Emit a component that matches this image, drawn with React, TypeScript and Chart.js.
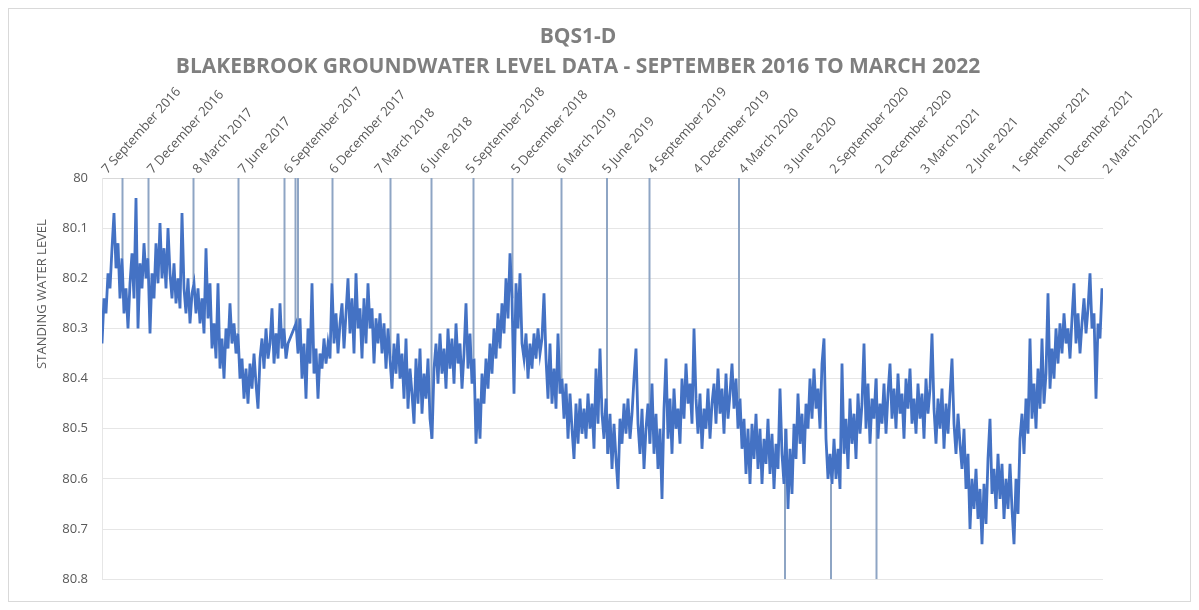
import { useEffect, useRef } from "react";
import { Chart, registerables } from "chart.js";

Chart.register(...registerables);

const TITLE = "BQS1-D";
const SUBTITLE = "BLAKEBROOK GROUNDWATER LEVEL DATA - SEPTEMBER 2016 TO MARCH 2022";
const Y_TITLE = "STANDING WATER LEVEL";

const tickLabels = [
  "7 September 2016", "7 December 2016", "8 March 2017", "7 June 2017",
  "6 September 2017", "6 December 2017", "7 March 2018", "6 June 2018",
  "5 September 2018", "5 December 2018", "6 March 2019", "5 June 2019",
  "4 September 2019", "4 December 2019", "4 March 2020", "3 June 2020",
  "2 September 2020", "2 December 2020", "3 March 2021", "2 June 2021",
  "1 September 2021", "1 December 2021", "2 March 2022",
];
const TICK_STEP_DAYS = 91;
const SAMPLE_STEP_DAYS = 4;

// standing water level readings, one every 4 days from 7 September 2016
const swl2016_17 = [
  80.33, 80.24, 80.27, 80.19, 80.22, 80.14, 80.07, 80.18, 80.13, 80.24,
  80.16, 80.27, 80.22, 80.30, 80.21, 80.15, 80.24, 80.04, 80.30, 80.17,
  80.22, 80.13, 80.20, 80.16, 80.31, 80.19, 80.24, 80.13, 80.21, 80.09,
  80.20, 80.14, 80.22, 80.10, 80.19, 80.24, 80.17, 80.25, 80.20, 80.26,
  80.07, 80.22, 80.27, 80.20, 80.29, 80.23, 80.21, 80.27, 80.22, 80.29,
  80.24, 80.31, 80.14, 80.28, 80.21, 80.34, 80.29, 80.36, 80.21, 80.38,
  80.32, 80.40, 80.30, 80.34, 80.25, 80.33, 80.29, 80.35, 80.31, 80.40,
  80.36, 80.44, 80.38, 80.45, 80.37, 80.42, 80.35, 80.41, 80.46, 80.36,
  80.32, 80.38, 80.30, 80.36, 80.33, 80.26, 80.37, 80.31, 80.36, 80.25,
  80.34,
];
const swl2017_18 = [
  80.30, 80.36, 80.33, 80.32, 80.31, 80.30, 80.29, 80.35, 80.28, 80.40,
  80.33, 80.44, 80.30, 80.37, 80.21, 80.39, 80.34, 80.44, 80.35, 80.38,
  80.32, 80.37, 80.33, 80.36, 80.21, 80.33, 80.27, 80.35, 80.29, 80.25,
  80.34, 80.27, 80.20, 80.31, 80.24, 80.35, 80.19, 80.30, 80.26, 80.36,
  80.24, 80.33, 80.21, 80.30, 80.26, 80.37, 80.28, 80.33, 80.27, 80.35,
  80.29, 80.38, 80.30, 80.36, 80.42, 80.33, 80.39, 80.31, 80.40, 80.35,
  80.44, 80.32, 80.46, 80.38, 80.43, 80.49, 80.36, 80.45, 80.34, 80.47,
  80.39, 80.44, 80.36, 80.48, 80.52, 80.38, 80.33, 80.41, 80.31, 80.39,
  80.34, 80.42, 80.30, 80.38, 80.32, 80.41, 80.29, 80.37, 80.33, 80.42,
  80.35,
];
const swl2018_19 = [
  80.25, 80.38, 80.31, 80.41, 80.36, 80.53, 80.44, 80.52, 80.39, 80.45,
  80.36, 80.42, 80.33, 80.39, 80.30, 80.36, 80.27, 80.34, 80.25, 80.31,
  80.20, 80.28, 80.15, 80.24, 80.43, 80.21, 80.30, 80.19, 80.33, 80.36,
  80.31, 80.40, 80.33, 80.38, 80.31, 80.36, 80.30, 80.35, 80.32, 80.23,
  80.36, 80.44, 80.33, 80.45, 80.38, 80.46, 80.31, 80.43, 80.40, 80.48,
  80.41, 80.52, 80.43, 80.50, 80.56, 80.45, 80.53, 80.44, 80.51, 80.46,
  80.52, 80.43, 80.50, 80.45, 80.54, 80.38, 80.49, 80.34, 80.47, 80.52,
  80.44, 80.55, 80.47, 80.58, 80.49, 80.56, 80.62, 80.48, 80.53, 80.45,
  80.51, 80.44, 80.52, 80.47, 80.40, 80.34, 80.49, 80.55, 80.46, 80.58,
  80.50,
];
const swl2019_20 = [
  80.45, 80.53, 80.41, 80.55, 80.47, 80.58, 80.50, 80.64, 80.46, 80.36,
  80.52, 80.44, 80.55, 80.42, 80.50, 80.46, 80.53, 80.40, 80.48, 80.37,
  80.45, 80.41, 80.49, 80.30, 80.44, 80.51, 80.43, 80.54, 80.46, 80.50,
  80.42, 80.52, 80.45, 80.41, 80.49, 80.38, 80.47, 80.42, 80.51, 80.39,
  80.48, 80.43, 80.37, 80.46, 80.40, 80.50, 80.44, 80.54, 80.48, 80.59,
  80.50, 80.61, 80.49, 80.56, 80.47, 80.58, 80.50, 80.61, 80.52, 80.57,
  80.48, 80.59, 80.51, 80.62, 80.53, 80.58, 80.42, 80.55, 80.61, 80.50,
  80.66, 80.54, 80.63, 80.49, 80.56, 80.43, 80.53, 80.47, 80.57, 80.45,
  80.50, 80.40, 80.48, 80.38, 80.46, 80.42, 80.50, 80.37, 80.32, 80.52,
  80.60,
];
const swl2020_21 = [
  80.55, 80.61, 80.52, 80.60, 80.54, 80.62, 80.37, 80.55, 80.48, 80.58,
  80.44, 80.53, 80.47, 80.56, 80.43, 80.51, 80.45, 80.33, 80.50, 80.41,
  80.53, 80.44, 80.48, 80.40, 80.52, 80.45, 80.49, 80.41, 80.51, 80.43,
  80.37, 80.48, 80.42, 80.50, 80.39, 80.47, 80.43, 80.52, 80.40, 80.46,
  80.38, 80.49, 80.44, 80.51, 80.41, 80.48, 80.43, 80.52, 80.40, 80.47,
  80.42, 80.31, 80.46, 80.53, 80.44, 80.50, 80.42, 80.54, 80.45, 80.51,
  80.43, 80.36, 80.49, 80.55, 80.47, 80.53, 80.58, 80.50, 80.62, 80.55,
  80.70, 80.60, 80.66, 80.58, 80.68, 80.62, 80.73, 80.61, 80.69, 80.56,
  80.48, 80.63, 80.58, 80.66, 80.55, 80.64, 80.57, 80.68, 80.60, 80.66,
  80.57,
];
const swl2021_22 = [
  80.66, 80.73, 80.60, 80.67, 80.52, 80.47, 80.55, 80.44, 80.51, 80.32,
  80.48, 80.41, 80.50, 80.38, 80.46, 80.32, 80.45, 80.39, 80.23, 80.42,
  80.34, 80.40, 80.30, 80.37, 80.29, 80.35, 80.27, 80.33, 80.30, 80.36,
  80.28, 80.21, 80.33, 80.27, 80.35, 80.29, 80.24, 80.31, 80.26, 80.19,
  80.30, 80.27, 80.44, 80.29, 80.32, 80.22,
];

// single erroneous readings (days after 7 September 2016) and the value logged
const spikeDays = [41, 93, 183, 273, 365, 387, 392, 461, 577, 659, 743, 821, 919, 1010, 1095, 1274, 1366, 1458, 1549];
const spikeLevels = [80, 80, 80, 80, 80, 80, 80, 80, 80, 80, 80, 80, 80, 80, 80, 80, 80.8, 80.8, 80.8];

const Y_MIN = 80;
const Y_MAX = 80.8;
const Y_STEP = 0.1;

const yTitlePlugin = {
  id: "yTitleFree",
  afterDraw(chart: any) {
    const { ctx, chartArea } = chart;
    ctx.save();
    ctx.translate(chartArea.left - 60, chartArea.top + 116);
    ctx.rotate(-Math.PI / 2);
    ctx.font = '13px "Open Sans"';
    ctx.fillStyle = "#595959";
    ctx.textAlign = "center";
    ctx.textBaseline = "middle";
    ctx.fillText(Y_TITLE, 0, 0);
    ctx.restore();
  },
};

export default function App() {
  const ref = useRef<HTMLCanvasElement | null>(null);

  useEffect(() => {
    if (!ref.current) return;
    const levels = [...swl2016_17, ...swl2017_18, ...swl2018_19, ...swl2019_20, ...swl2020_21, ...swl2021_22];
    const linePoints = levels.map((y, i) => ({ x: i * SAMPLE_STEP_DAYS, y }));
    const spikePoints: any[] = [];
    spikeDays.forEach((d, k) => {
      const base = levels[Math.round(d / SAMPLE_STEP_DAYS)];
      spikePoints.push({ x: d, y: base }, { x: d, y: spikeLevels[k] }, { x: d, y: null });
    });
    const axisEnd = (tickLabels.length - 1) * TICK_STEP_DAYS;

    Chart.defaults.font.family = '"Open Sans", sans-serif';

    const chart = new Chart(ref.current, {
      type: "line",
      data: {
        datasets: [
          {
            label: "Standing water level",
            data: linePoints,
            borderColor: "#4472C4",
            borderWidth: 2.8,
            borderJoinStyle: "miter",
            pointRadius: 0,
            tension: 0,
            order: 0,
          },
          {
            label: "Spikes",
            data: spikePoints,
            borderColor: "#8ea5c4",
            borderWidth: 2,
            pointRadius: 0,
            spanGaps: false,
            order: 1,
          },
        ],
      },
      options: {
        animation: false,
        responsive: false,
        devicePixelRatio: 1,
        layout: { padding: { left: 44, right: 87, top: 0, bottom: 19 } },
        plugins: {
          legend: { display: false },
          tooltip: { enabled: false },
          title: {
            display: true,
            text: TITLE,
            color: "#7f7f7f",
            font: { size: 21, weight: "bold" },
            padding: { top: 15.4, bottom: 0 },
          },
          subtitle: {
            display: true,
            text: SUBTITLE,
            color: "#7f7f7f",
            font: { size: 21, weight: "bold" },
            padding: { top: 5.3, bottom: 4 },
          },
        },
        scales: {
          x: {
            type: "linear",
            position: "top",
            min: 0,
            max: axisEnd,
            afterFit: (s: any) => {
              s.height = 93.9;
            },
            ticks: {
              stepSize: TICK_STEP_DAYS,
              autoSkip: false,
              minRotation: 48,
              maxRotation: 48,
              padding: 1,
              labelOffset: 14,
              color: "#595959",
              font: { size: 13 },
              callback: (v: any) => tickLabels[Math.round(Number(v) / TICK_STEP_DAYS)] ?? "",
            },
            grid: { drawOnChartArea: false, drawTicks: false },
            border: { display: true, color: "#d9d9d9" },
          },
          y: {
            type: "linear",
            reverse: true,
            min: Y_MIN,
            max: Y_MAX,
            afterFit: (s: any) => {
              s.width = 49;
            },
            ticks: {
              stepSize: Y_STEP,
              padding: 14,
              color: "#595959",
              font: { size: 13 },
              callback: (v: any) => String(Number(Number(v).toFixed(1))),
            },
            grid: { color: "#e6e6e6", drawTicks: false },
            border: { display: true, color: "#e6e6e6" },
          },
        },
      },
      plugins: [yTitlePlugin],
    });
    return () => chart.destroy();
  }, []);

  return (
    <div
      style={{
        width: 1183,
        height: 594,
        border: "1px solid #d9d9d9",
        boxSizing: "border-box",
        background: "#ffffff",
      }}
    >
      <canvas ref={ref} width={1181} height={592} style={{ display: "block" }} />
    </div>
  );
}
